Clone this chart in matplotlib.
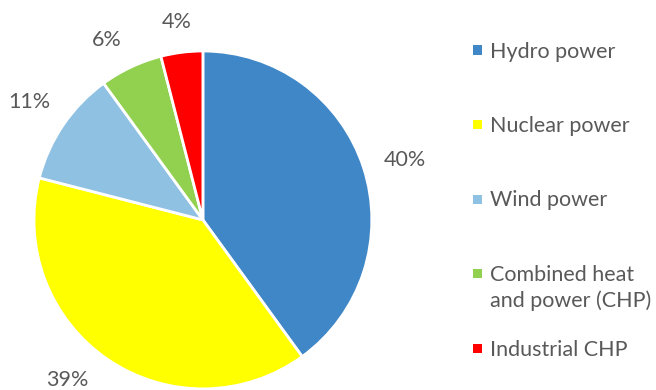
import numpy as np
import matplotlib.pyplot as plt
from matplotlib.patches import Rectangle

sources = ["Hydro power", "Nuclear power", "Wind power",
           "Combined heat\nand power (CHP)", "Industrial CHP"]
shares = [40, 39, 11, 6, 4]
colors = ["#3F87C7", "#FFFF00", "#8FC1E3", "#92D050", "#FF0000"]

# per-label radial distance and angle nudge (degrees) for the % labels
label_dist = [1.25, 1.24, 1.24, 1.21, 1.18]
label_nudge = [-1.5, -6, 0, 3, 0.5]

plt.rcParams['font.family'] = ['Lato', 'DejaVu Sans']
text_color = "#595959"
fsize = 15.5

W, H = 656, 390
fig = plt.figure(figsize=(W / 100, H / 100), dpi=100)
ax = fig.add_axes([0.0518, 0.0026, 0.515, 0.867])

wedges, _ = ax.pie(
    shares, colors=colors, startangle=90, counterclock=False,
    wedgeprops=dict(edgecolor="white", linewidth=2),
)
for w, v, d, n in zip(wedges, shares, label_dist, label_nudge):
    ang = np.deg2rad((w.theta1 + w.theta2) / 2 + n)
    ax.text(d * np.cos(ang), d * np.sin(ang), f"{v}%", ha="center",
            va="center", color=text_color, fontsize=fsize)
ax.set_xlim(-1, 1)
ax.set_ylim(-1, 1)
ax.set_aspect("equal")

# legend: first line of each entry on an even grid
y0, step, line_px = 50, 74.5, 26
for i, (name, c) in enumerate(zip(sources, colors)):
    yc = y0 + i * step
    fig.patches.append(Rectangle((473 / W, 1 - (yc + 4.5) / H), 9 / W, 9 / H,
                                 transform=fig.transFigure, facecolor=c,
                                 edgecolor="none"))
    # baseline alignment sits on the last line, so push wrapped labels down
    extra = name.count("\n") * line_px
    fig.text(490 / W, 1 - (yc + 7.5 + extra) / H, name, ha="left",
             va="baseline", color=text_color, fontsize=fsize, linespacing=1.3)

fig.savefig("out.png", dpi=100)
